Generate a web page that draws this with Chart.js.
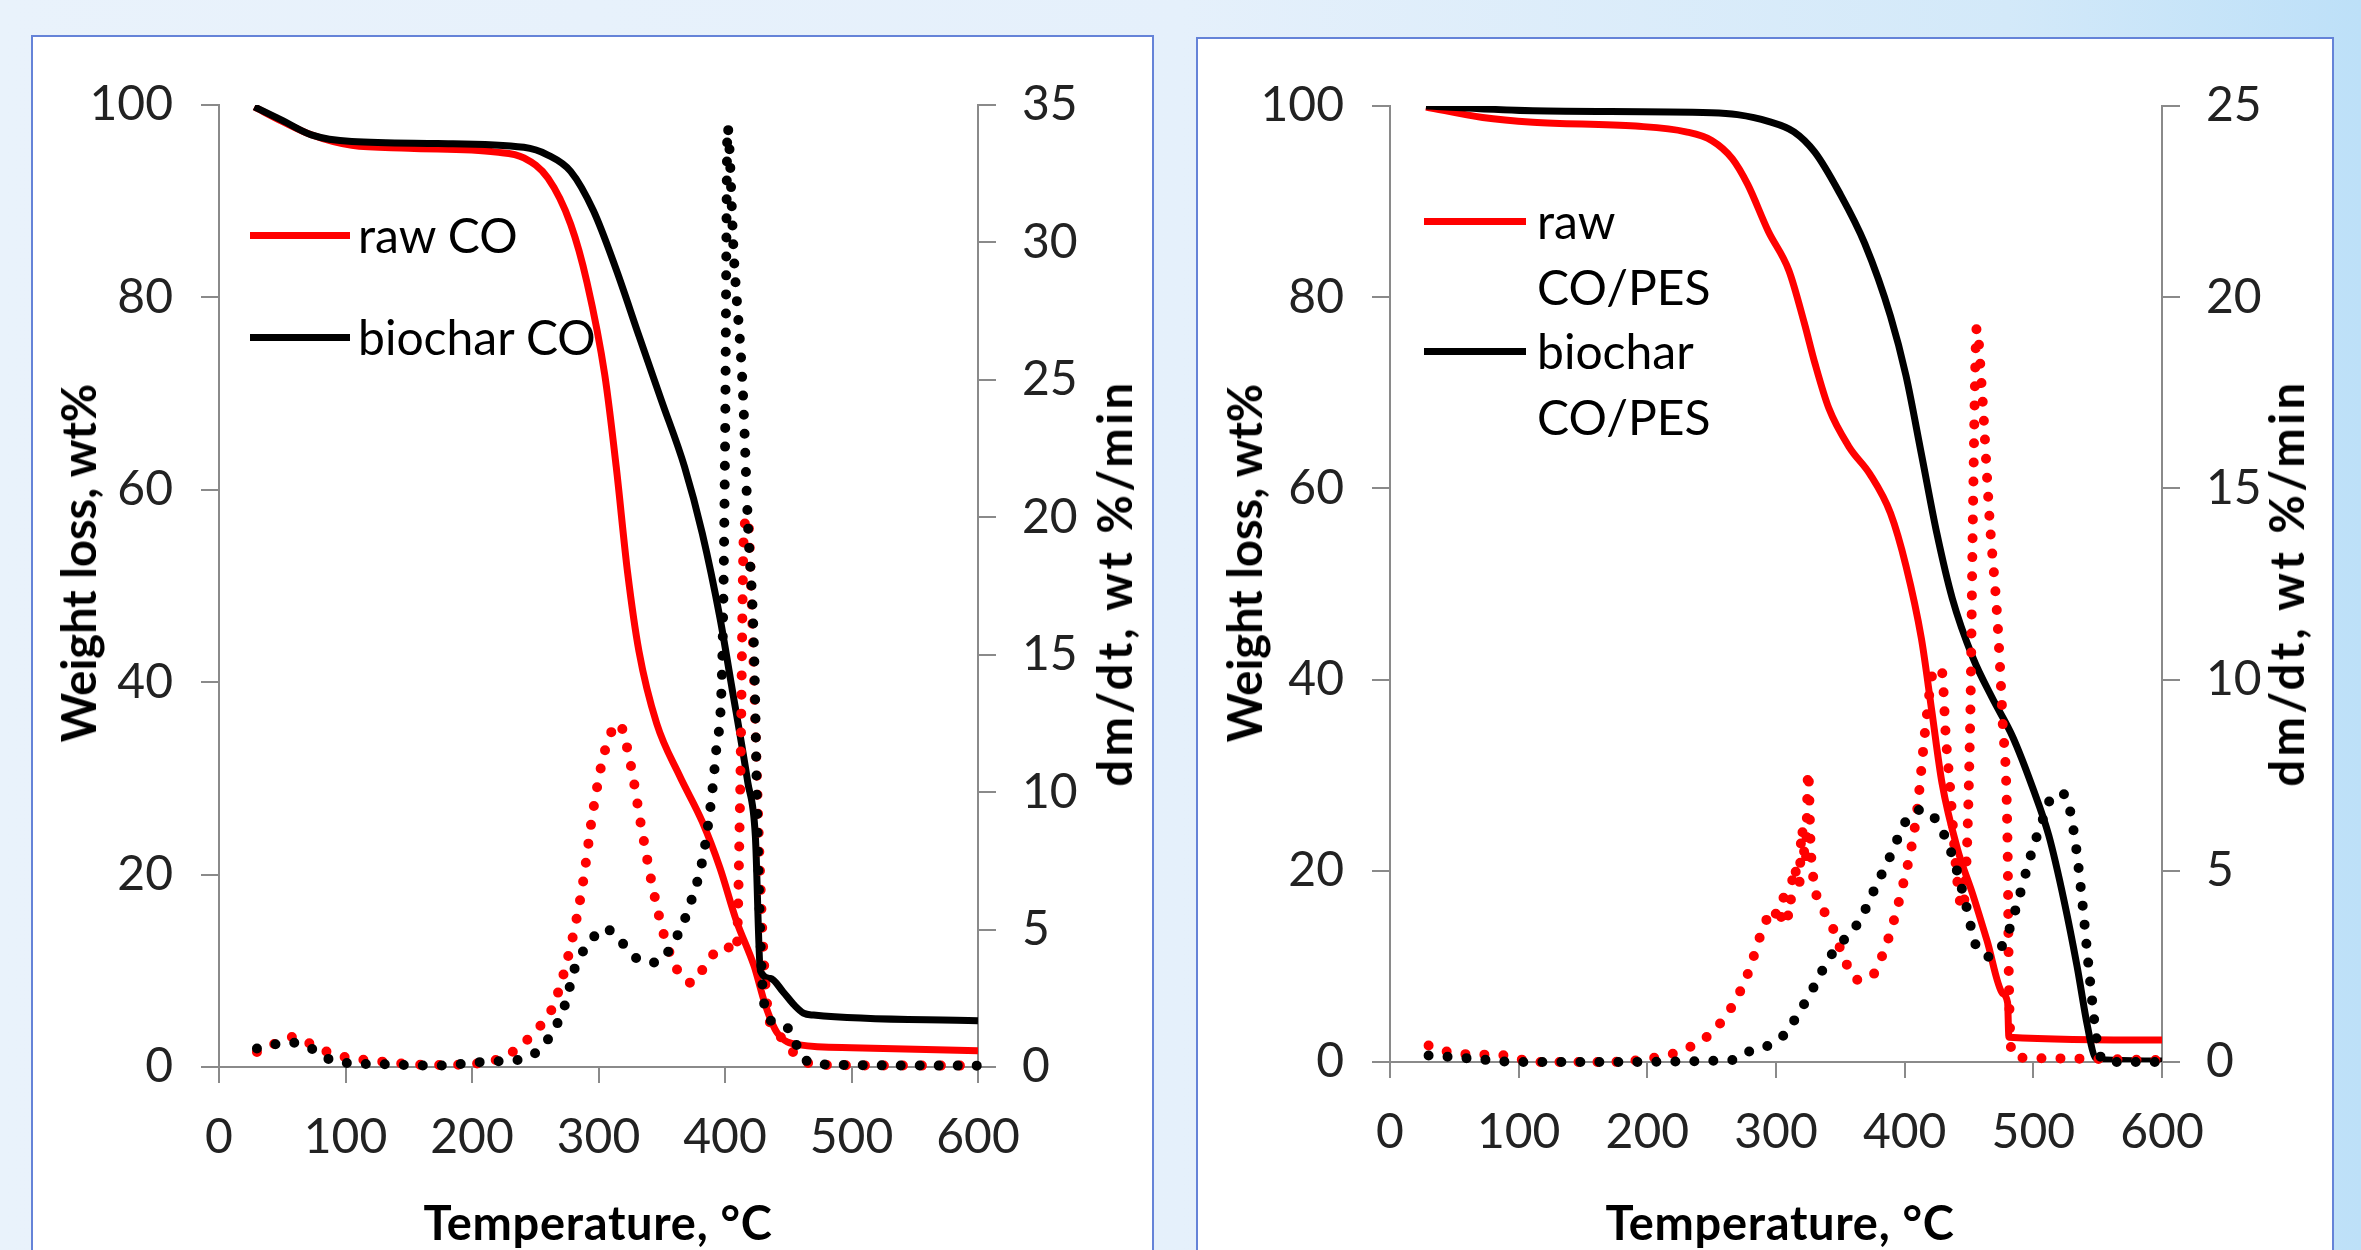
<!DOCTYPE html>
<html>
<head>
<meta charset="utf-8">
<script src="https://cdn.jsdelivr.net/npm/chart.js@4.4.0/dist/chart.umd.min.js"></script>
<style>
html, body { margin: 0; padding: 0; }
body {
    width: 2361px; height: 1250px; overflow: hidden; position: relative;
    background: linear-gradient(to right, #e9f2fb 0%, #e5f0fb 50%, #d3e9f9 85%, #bde0f8 100%);
    font-family: Lato, "Open Sans", sans-serif;
}
.frame { position: absolute; background: #fff; border: 2px solid #6583d8; box-sizing: border-box; }
canvas { position: absolute; }
.ttl { position: absolute; font-weight: bold; font-size: 47px; color: #000; white-space: nowrap; transform: translate(-50%, -50%); }
.ttl.rot { transform: translate(-50%, -50%) rotate(-90deg); }
.ttl.wide { letter-spacing: 3.5px; }
.leg { position: absolute; font-size: 48px; color: #000; white-space: nowrap; line-height: 66px; }
.ln { position: absolute; height: 7px; }
</style>
</head>
<body>
<div class="frame" style="left:31px; top:35px; width:1123px; height:1300px;"></div>
<div class="frame" style="left:1196px; top:37px; width:1138px; height:1300px;"></div>

<canvas id="chartCO" width="1121" height="1214" style="left:32px; top:36px;"></canvas>
<canvas id="chartPES" width="1134" height="1212" style="left:1198px; top:38px;"></canvas>

<!-- підписи осей -->
<div class="ttl rot" style="left:78px; top:563px;">Weight loss, wt%</div>
<div class="ttl rot wide" style="left:1114px; top:583px;">dm/dt, wt %/min</div>
<div class="ttl" style="left:598px; top:1222px; letter-spacing:0.7px;">Temperature, °C</div>

<div class="ttl rot" style="left:1244px; top:563px;">Weight loss, wt%</div>
<div class="ttl rot wide" style="left:2286px; top:583px;">dm/dt, wt %/min</div>
<div class="ttl" style="left:1780px; top:1222px; letter-spacing:0.7px;">Temperature, °C</div>

<!-- легенди -->
<div class="ln" style="left:250px; top:232px; width:100px; background:#ff0000;"></div>
<div class="leg" style="left:358px; top:202px;">raw CO</div>
<div class="ln" style="left:250px; top:334px; width:100px; background:#000;"></div>
<div class="leg" style="left:358px; top:304px;">biochar CO</div>

<div class="ln" style="left:1424px; top:218px; width:102px; background:#ff0000;"></div>
<div class="leg" style="left:1537px; top:188px;">raw<br>CO/PES</div>
<div class="ln" style="left:1424px; top:348px; width:102px; background:#000;"></div>
<div class="leg" style="left:1537px; top:318px;">biochar<br>CO/PES</div>

<script>
// Ліва панель: CO (температура, °C)
const tRawCoTg = [28, 50, 73, 105, 150, 219, 241, 260, 278, 291, 305, 314, 323, 332, 346, 364, 382, 396, 409, 423, 432, 441, 459, 500, 600];
const wRawCoTg = [99.8, 98.3, 96.9, 95.8, 95.5, 95.1, 94.5, 92.4, 87.6, 81.5, 71.9, 62.4, 51.4, 43.2, 35.7, 30.3, 25.5, 20.7, 15.2, 10.5, 6.4, 3.6, 2.3, 2.0, 1.7];

const tBioCoTg = [28, 50, 73, 105, 173, 241, 260, 278, 296, 314, 332, 350, 368, 382, 396, 405, 418, 424, 428, 436, 446, 455, 462, 470, 600];
const wBioCoTg = [99.8, 98.4, 96.9, 96.2, 96.0, 95.6, 94.8, 93.1, 89.0, 82.9, 76.0, 69.2, 62.4, 55.5, 46.7, 39.8, 29.6, 24.0, 10.0, 9.2, 7.8, 6.4, 5.6, 5.4, 4.8];

const tRawCoDtg = [30, 42, 51, 60, 70, 78, 96, 128, 170, 214, 232, 250, 264, 278, 287, 296, 305, 316, 325, 334, 343, 353, 364, 374, 387, 400, 409, 412, 415, 418, 421, 424, 427, 430, 434, 440, 446, 459, 480, 600];
const dRawCoDtg = [0.55, 0.8, 1.0, 1.1, 0.9, 0.7, 0.4, 0.2, 0.07, 0.2, 0.55, 1.3, 2.2, 4.4, 6.5, 9.4, 11.5, 12.5, 11.1, 8.7, 6.5, 4.6, 3.4, 3.06, 3.9, 4.4, 4.2, 10, 19.5, 20, 17, 12.5, 8, 4.5, 2.0, 1.3, 1.0, 0.3, 0.07, 0.05];

const tBioCoDtg = [30, 42, 55, 73, 92, 130, 170, 214, 241, 260, 273, 282, 291, 305, 319, 332, 346, 359, 373, 384, 393, 398, 400, 402, 407, 414, 418, 423, 426, 430, 436, 445, 452, 459, 470, 600];
const dBioCoDtg = [0.67, 0.8, 0.9, 0.67, 0.2, 0.1, 0.05, 0.2, 0.3, 1.0, 2.2, 3.7, 4.4, 5.04, 4.5, 3.9, 3.8, 4.5, 6.0, 8.0, 11.5, 15.1, 22.3, 34.2, 29.5, 24.7, 19.9, 15.1, 8.0, 2.7, 1.7, 1.5, 1.3, 0.55, 0.1, 0.05];

// Права панель: CO/PES
const tRawPesTg = [28, 72, 111, 191, 230, 250, 266, 278, 294, 310, 322, 330, 341, 357, 373, 389, 401, 413, 421, 429, 441, 453, 464, 476, 480, 481, 600];
const wRawPesTg = [99.9, 98.8, 98.3, 97.9, 97.3, 96.4, 94.5, 91.8, 86.9, 82.8, 77.3, 73.2, 68.4, 64.3, 61.5, 57.4, 51.9, 44.3, 36.8, 29.2, 22.3, 17.5, 12.7, 7.2, 6.2, 2.6, 2.3];

const tBioPesTg = [28, 111, 250, 270, 294, 314, 330, 349, 369, 389, 401, 413, 425, 437, 453, 468, 484, 500, 512, 524, 534, 542, 548, 556, 600];
const wBioPesTg = [100, 99.5, 99.3, 99.1, 98.4, 97.3, 95.2, 91.0, 85.6, 78.0, 71.8, 63.6, 55.3, 48.5, 42.3, 38.1, 34.0, 28.5, 23.7, 16.8, 10.0, 3.8, 0.5, 0.2, 0.1];

const tRawPesDtg = [30, 52, 91, 111, 170, 214, 230, 250, 266, 278, 290, 298, 303, 306, 310, 314, 318, 320, 323, 325, 327, 330, 333, 338, 343, 353, 363, 373, 385, 397, 409, 417, 422, 425, 429, 432, 435, 441, 445, 451, 453, 456, 460, 466, 472, 476, 480, 481, 484, 500, 600];
const dRawPesDtg = [0.43, 0.22, 0.17, 0, 0, 0.17, 0.34, 0.77, 1.46, 2.3, 3.5, 4.0, 3.6, 4.3, 3.8, 5.1, 4.6, 6.1, 5.2, 7.6, 5.6, 4.6, 4.2, 3.9, 3.6, 2.7, 2.15, 2.2, 3.0, 4.4, 6.4, 9.0, 10.2, 10.3, 10.2, 8.5, 7.3, 4.7, 4.0, 9.0, 14.2, 19.2, 17.6, 14.2, 11.6, 9.0, 5.6, 2.1, 0.17, 0.1, 0.05];

const tBioPesDtg = [30, 60, 99, 150, 266, 278, 294, 306, 318, 330, 341, 353, 365, 377, 389, 401, 413, 425, 437, 447, 456, 468, 480, 488, 498, 508, 516, 524, 532, 538, 544, 550, 556, 600];
const dBioPesDtg = [0.17, 0.1, 0, 0, 0.05, 0.26, 0.43, 0.7, 1.3, 2.0, 2.7, 3.2, 3.7, 4.55, 5.4, 6.3, 6.6, 6.3, 5.4, 4.2, 3.0, 2.75, 3.35, 4.2, 5.4, 6.4, 7.0, 7.0, 5.9, 4.2, 2.15, 0.43, 0, 0];

// Підписи шкал
const xTicks = { min: 0, max: 600, step: 100 };
const yLeftTicks = { min: 0, max: 100, step: 20 };
const yRightCo = { min: 0, max: 35, step: 5 };
const yRightPes = { min: 0, max: 25, step: 5 };

const axisGray = '#8a8a8a';
const tickFont = { family: 'Lato', size: 48 };

function pts(t, v) {
    return t.map((x, i) => ({ x: x, y: v[i] }));
}

function solid(t, v, color, order) {
    return {
        data: pts(t, v), yAxisID: 'y', borderColor: color, borderWidth: 7,
        pointRadius: 0, cubicInterpolationMode: 'monotone', order: order
    };
}

// DTG - круглі крапки
function dotted(t, v, color, order) {
    return {
        data: pts(t, v), yAxisID: 'y2', borderColor: color, borderWidth: 10,
        borderDash: [0, 19], borderCapStyle: 'round', clip: false,
        pointRadius: 0, cubicInterpolationMode: 'monotone', order: order
    };
}

function axisGrid() {
    return { drawOnChartArea: false, drawTicks: true, tickLength: 18, color: axisGray, lineWidth: 2 };
}

function makeChart(id, datasets, yRight, box) {
    const ctx = document.getElementById(id).getContext('2d');
    return new Chart(ctx, {
        type: 'line',
        data: { datasets: datasets },
        options: {
            responsive: false,
            animation: false,
            layout: { padding: { top: box.top, left: 0, right: 0, bottom: 0 } },
            plugins: { legend: { display: false }, tooltip: { enabled: false } },
            scales: {
                x: {
                    type: 'linear', min: xTicks.min, max: xTicks.max,
                    ticks: { stepSize: xTicks.step, font: tickFont, color: '#222', padding: 26, maxRotation: 0 },
                    grid: { drawOnChartArea: false, drawTicks: true, tickLength: 16, color: axisGray, lineWidth: 2 },
                    border: { color: axisGray, width: 2 },
                    afterFit: s => { s.height = box.xHeight; }
                },
                y: {
                    position: 'left', min: yLeftTicks.min, max: yLeftTicks.max,
                    ticks: { stepSize: yLeftTicks.step, font: tickFont, color: '#222', padding: 28 },
                    grid: axisGrid(),
                    border: { color: axisGray, width: 2 },
                    afterFit: s => { s.width = box.left; }
                },
                y2: {
                    position: 'right', min: yRight.min, max: yRight.max,
                    ticks: { stepSize: yRight.step, font: tickFont, color: '#222', padding: 26 },
                    grid: axisGrid(),
                    border: { color: axisGray, width: 2 },
                    afterFit: s => { s.width = box.right; }
                }
            }
        }
    });
}

document.addEventListener('DOMContentLoaded', () => {
    makeChart('chartCO', [
        dotted(tBioCoDtg, dBioCoDtg, '#000000', 0),
        dotted(tRawCoDtg, dRawCoDtg, '#ff0000', 1),
        solid(tBioCoTg, wBioCoTg, '#000000', 2),
        solid(tRawCoTg, wRawCoTg, '#ff0000', 3)
    ], yRightCo, { top: 69, left: 187, right: 175, xHeight: 183 });

    makeChart('chartPES', [
        dotted(tBioPesDtg, dBioPesDtg, '#000000', 0),
        dotted(tRawPesDtg, dRawPesDtg, '#ff0000', 1),
        solid(tBioPesTg, wBioPesTg, '#000000', 2),
        solid(tRawPesTg, wRawPesTg, '#ff0000', 3)
    ], yRightPes, { top: 68, left: 192, right: 170, xHeight: 188 });
});
</script>
</body>
</html>
